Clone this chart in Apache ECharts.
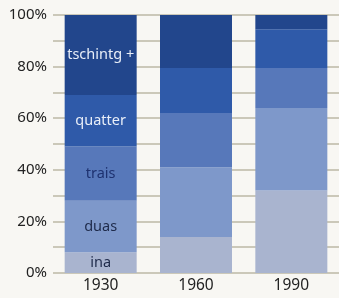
<!DOCTYPE html>
<html>
<head>
<meta charset="utf-8">
<script src="https://cdn.jsdelivr.net/npm/echarts@6/dist/echarts.min.js"></script>
<style>
  html, body { margin: 0; padding: 0; background: #f8f7f3; }
  #chart { width: 339px; height: 298px; }
</style>
</head>
<body>
<div id="chart"></div>
<script>
// categories and shares (percent) per group, bottom to top
var years = ['1930', '1960', '1990'];
var ina = [8, 14, 32];
var duas = [20, 27, 32];
var trais = [21, 21, 15.5];
var quatter = [20, 17.5, 15];
var tschintg = [31, 20.5, 5.5];

var names = ['ina', 'duas', 'trais', 'quatter', 'tschintg +'];
var values = [ina, duas, trais, quatter, tschintg];
var colors = ['#a9b4cf', '#7e98ca', '#5778ba', '#2f5aa9', '#22468c'];
var labelColors = ['#1e2a4a', '#1e2a4a', '#1e3270', '#e8eef8', '#e8eef8'];

var chart = echarts.init(document.getElementById('chart'));

var series = names.map(function (name, k) {
    return {
        name: name,
        type: 'bar',
        stack: 'total',
        barWidth: 72,
        itemStyle: { color: colors[k] },
        data: values[k].map(function (v, i) {
            if (i !== 0) return v;
            return {
                value: v,
                label: {
                    show: true,
                    position: 'inside',
                    formatter: name,
                    color: labelColors[k],
                    fontFamily: 'Noto Sans',
                    fontSize: 14.5
                }
            };
        })
    };
});

var option = {
    backgroundColor: '#f8f7f3',
    animation: false,
    grid: { left: 53, top: 15, width: 288, height: 258 },
    xAxis: {
        type: 'category',
        data: years,
        axisLine: { show: false },
        axisTick: { show: false },
        axisLabel: { color: '#222', fontSize: 15.5, fontFamily: 'Noto Sans', margin: 5 }
    },
    yAxis: {
        type: 'value',
        min: 0,
        max: 100,
        interval: 10,
        axisLine: { show: false },
        axisTick: { show: false },
        splitLine: { lineStyle: { color: '#bcb9a6', width: 1.5 } },
        axisLabel: {
            color: '#222',
            fontSize: 15,
            fontFamily: 'Noto Sans',
            margin: 6,
            formatter: function (v) { return v % 20 === 0 ? v + '%' : ''; }
        }
    },
    series: series
};

chart.setOption(option);
</script>
</body>
</html>
